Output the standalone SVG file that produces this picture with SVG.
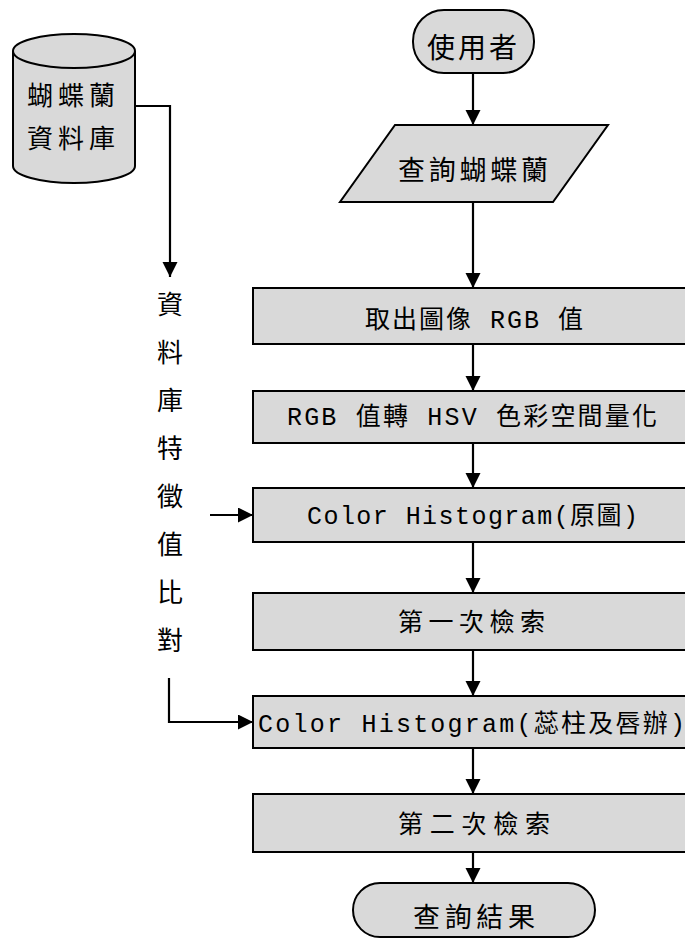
<svg xmlns="http://www.w3.org/2000/svg" width="685" height="940" viewBox="0 0 685 940">
<defs>
<style>
.shape{fill:#d9d9d9;stroke:#000;stroke-width:2}
.t{font-family:"Liberation Mono","Noto Sans CJK TC",monospace;fill:#000;text-anchor:middle}
.c{fill:none;stroke:#000;stroke-width:2.2}
</style>
<marker id="ah" markerUnits="userSpaceOnUse" markerWidth="16" markerHeight="16" refX="15" refY="7.5" orient="auto">
<path d="M0,0 L15,7.5 L0,15 z" fill="#000"/>
</marker>
</defs>
<rect width="685" height="940" fill="#fff"/>

<g id="db">
<path class="shape" d="M13,51 L13,166 A61,17 0 0 0 135,166 L135,51"/>
<ellipse class="shape" cx="74" cy="51" rx="61" ry="17"/>
<text class="t" x="71" y="105" font-size="26" textLength="88" lengthAdjust="spacing">蝴蝶蘭</text>
<text class="t" x="71" y="148" font-size="26" textLength="88" lengthAdjust="spacing">資料庫</text>
</g>

<g id="user">
<rect class="shape" x="413" y="10" width="121" height="63" rx="31" ry="31"/>
<text class="t" x="472" y="58" font-size="28" textLength="90" lengthAdjust="spacing">使用者</text>
</g>

<g id="query">
<polygon class="shape" points="395,125 608,125 553,202 340,202"/>
<text class="t" x="473" y="180" font-size="27" textLength="150" lengthAdjust="spacing">查詢蝴蝶蘭</text>
</g>

<g id="rgb">
<rect class="shape" x="253" y="288" width="440" height="56"/>
<text class="t" x="474" y="327.5" font-size="25" textLength="218" lengthAdjust="spacing">取出圖像 RGB 值</text>
</g>

<g id="hsv">
<rect class="shape" x="253" y="391" width="440" height="52"/>
<text class="t" x="472" y="424.5" font-size="25" textLength="370" lengthAdjust="spacing">RGB 值轉 HSV 色彩空間量化</text>
</g>

<g id="hist1">
<rect class="shape" x="253" y="488" width="440" height="54"/>
<text class="t" x="472.5" y="523.5" font-size="25" textLength="331" lengthAdjust="spacing">Color Histogram(原圖)</text>
</g>

<g id="search1">
<rect class="shape" x="253" y="593" width="440" height="57"/>
<text class="t" x="471.5" y="630.5" font-size="25" textLength="147" lengthAdjust="spacing">第一次檢索</text>
</g>

<g id="hist2">
<rect class="shape" x="253" y="696" width="440" height="52"/>
<text class="t" x="471.5" y="731.5" font-size="25" textLength="427" lengthAdjust="spacing">Color Histogram(蕊柱及唇辦)</text>
</g>

<g id="search2">
<rect class="shape" x="253" y="794" width="440" height="58"/>
<text class="t" x="474" y="832.5" font-size="25" textLength="152" lengthAdjust="spacing">第二次檢索</text>
</g>

<g id="result">
<rect class="shape" x="353" y="883" width="242" height="54" rx="27" ry="27"/>
<text class="t" x="474" y="927" font-size="27" textLength="122" lengthAdjust="spacing">查詢結果</text>
</g>

<g id="compare-label">
<text class="t" font-size="26"><tspan x="170" y="314">資</tspan><tspan x="170" y="362">料</tspan><tspan x="170" y="410">庫</tspan><tspan x="170" y="458">特</tspan><tspan x="170" y="506">徵</tspan><tspan x="170" y="554">值</tspan><tspan x="170" y="602">比</tspan><tspan x="170" y="650">對</tspan></text>
</g>

<g id="connectors">
<path class="c" d="M135,106 L170,106 L170,277" marker-end="url(#ah)"/>
<path class="c" d="M473,73 L473,125" marker-end="url(#ah)"/>
<path class="c" d="M473,202 L473,288" marker-end="url(#ah)"/>
<path class="c" d="M473,344 L473,391" marker-end="url(#ah)"/>
<path class="c" d="M473,443 L473,488" marker-end="url(#ah)"/>
<path class="c" d="M473,542 L473,593" marker-end="url(#ah)"/>
<path class="c" d="M473,650 L473,696" marker-end="url(#ah)"/>
<path class="c" d="M473,748 L473,794" marker-end="url(#ah)"/>
<path class="c" d="M473,852 L473,883" marker-end="url(#ah)"/>
<path class="c" d="M210,515 L253,515" marker-end="url(#ah)"/>
<path class="c" d="M169,678 L169,722 L253,722" marker-end="url(#ah)"/>
</g>
</svg>
